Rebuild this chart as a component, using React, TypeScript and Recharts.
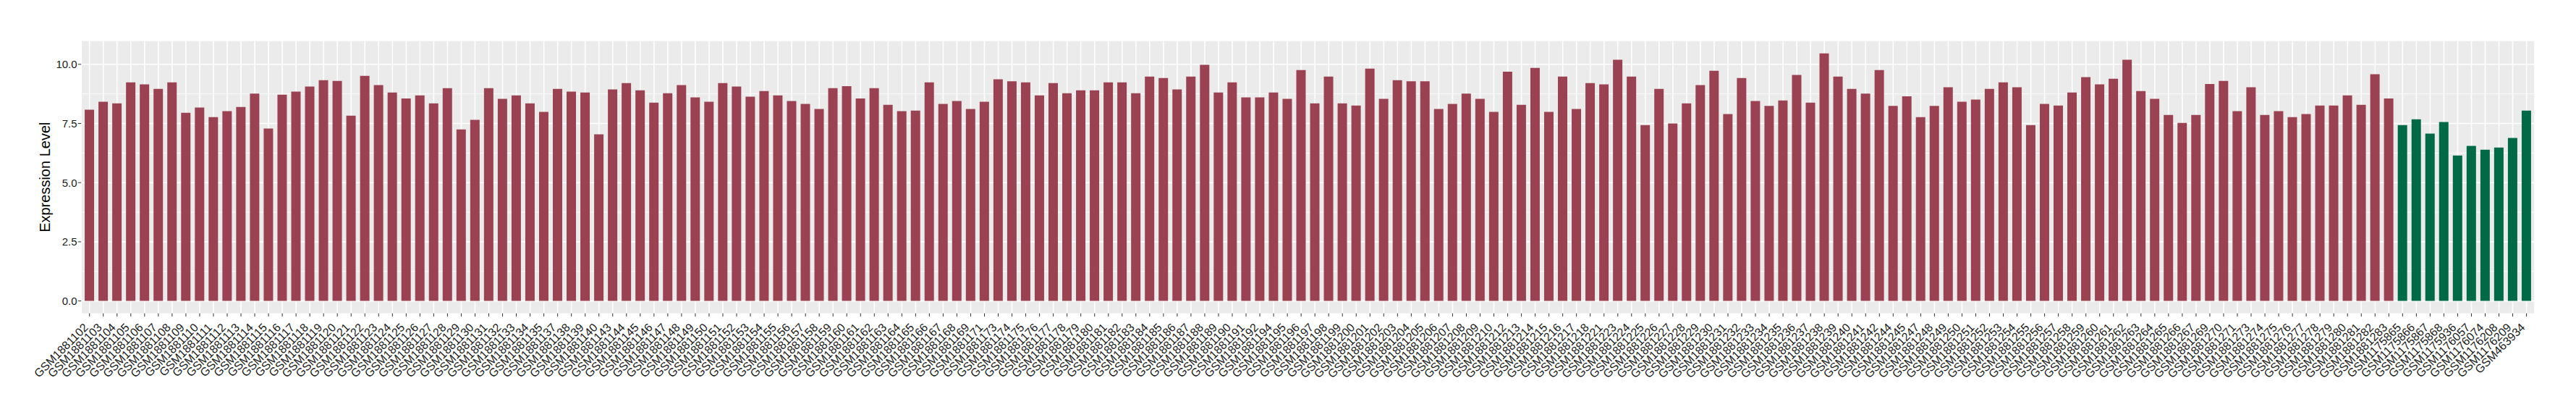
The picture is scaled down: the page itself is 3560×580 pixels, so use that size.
import React from 'react';
import { BarChart, Bar, XAxis, YAxis, CartesianGrid, Cell } from 'recharts';

const tumorSamples = [
  'GSM1881102','GSM1881103','GSM1881104','GSM1881105','GSM1881106','GSM1881107','GSM1881108','GSM1881109','GSM1881110','GSM1881111',
  'GSM1881112','GSM1881113','GSM1881114','GSM1881115','GSM1881116','GSM1881117','GSM1881118','GSM1881119','GSM1881120','GSM1881121',
  'GSM1881122','GSM1881123','GSM1881124','GSM1881125','GSM1881126','GSM1881127','GSM1881128','GSM1881129','GSM1881130','GSM1881131',
  'GSM1881132','GSM1881133','GSM1881134','GSM1881135','GSM1881137','GSM1881138','GSM1881139','GSM1881140','GSM1881143','GSM1881144',
  'GSM1881145','GSM1881146','GSM1881147','GSM1881148','GSM1881149','GSM1881150','GSM1881151','GSM1881152','GSM1881153','GSM1881154',
  'GSM1881155','GSM1881156','GSM1881157','GSM1881158','GSM1881159','GSM1881160','GSM1881161','GSM1881162','GSM1881163','GSM1881164',
  'GSM1881165','GSM1881166','GSM1881167','GSM1881168','GSM1881169','GSM1881171','GSM1881173','GSM1881174','GSM1881175','GSM1881176',
  'GSM1881177','GSM1881178','GSM1881179','GSM1881180','GSM1881181','GSM1881182','GSM1881183','GSM1881184','GSM1881185','GSM1881186',
  'GSM1881187','GSM1881188','GSM1881189','GSM1881190','GSM1881191','GSM1881192','GSM1881194','GSM1881195','GSM1881196','GSM1881197',
  'GSM1881198','GSM1881199','GSM1881200','GSM1881201','GSM1881202','GSM1881203','GSM1881204','GSM1881205','GSM1881206','GSM1881207',
  'GSM1881208','GSM1881209','GSM1881210','GSM1881212','GSM1881213','GSM1881214','GSM1881215','GSM1881216','GSM1881217','GSM1881218',
  'GSM1881221','GSM1881223','GSM1881224','GSM1881225','GSM1881226','GSM1881227','GSM1881228','GSM1881229','GSM1881230','GSM1881231',
  'GSM1881232','GSM1881233','GSM1881234','GSM1881235','GSM1881236','GSM1881237','GSM1881238','GSM1881239','GSM1881240','GSM1881241',
  'GSM1881242','GSM1881244','GSM1881245','GSM1881247','GSM1881248','GSM1881249','GSM1881250','GSM1881251','GSM1881252','GSM1881253',
  'GSM1881254','GSM1881255','GSM1881256','GSM1881257','GSM1881258','GSM1881259','GSM1881260','GSM1881261','GSM1881262','GSM1881263',
  'GSM1881264','GSM1881265','GSM1881266','GSM1881267','GSM1881269','GSM1881270','GSM1881271','GSM1881273','GSM1881274','GSM1881275',
  'GSM1881276','GSM1881277','GSM1881278','GSM1881279','GSM1881280','GSM1881281','GSM1881282','GSM1881283',
];

const tumorValues = [
  8.08, 8.42, 8.35, 9.24, 9.15, 8.96, 9.24, 7.95, 8.17, 7.77,
  8.02, 8.20, 8.76, 7.29, 8.72, 8.85, 9.06, 9.33, 9.30, 7.83,
  9.51, 9.12, 8.81, 8.56, 8.69, 8.35, 8.99, 7.25, 7.65, 8.99,
  8.54, 8.69, 8.35, 7.99, 8.96, 8.85, 8.81, 7.04, 8.94, 9.21,
  8.90, 8.38, 8.78, 9.12, 8.60, 8.42, 9.21, 9.06, 8.63, 8.87,
  8.69, 8.45, 8.33, 8.11, 8.99, 9.08, 8.56, 8.99, 8.29, 8.02,
  8.04, 9.24, 8.33, 8.45, 8.11, 8.42, 9.37, 9.28, 9.24, 8.69,
  9.21, 8.78, 8.90, 8.90, 9.24, 9.24, 8.78, 9.48, 9.42, 8.94,
  9.48, 9.98, 8.81, 9.24, 8.60, 8.60, 8.81, 8.54, 9.76, 8.35,
  9.48, 8.35, 8.26, 9.82, 8.54, 9.33, 9.28, 9.28, 8.11, 8.33,
  8.76, 8.54, 7.99, 9.69, 8.29, 9.85, 7.99, 9.48, 8.11, 9.21,
  9.15, 10.19, 9.48, 7.43, 8.96, 7.50, 8.35, 9.12, 9.73, 7.90,
  9.42, 8.45, 8.24, 8.47, 9.55, 8.38, 10.46, 9.48, 8.96, 8.76,
  9.76, 8.24, 8.65, 7.77, 8.24, 9.03, 8.42, 8.51, 8.96, 9.24,
  9.03, 7.43, 8.33, 8.26, 8.81, 9.46, 9.15, 9.39, 10.19, 8.87,
  8.54, 7.86, 7.52, 7.86, 9.17, 9.30, 8.02, 9.03, 7.86, 8.02,
  7.77, 7.90, 8.26, 8.26, 8.69, 8.29, 9.58, 8.56,
];

const normalSamples = [
  'GSM1175865','GSM1175866','GSM1175867','GSM1175868','GSM1175936',
  'GSM1176057','GSM1176074','GSM1176208','GSM1176209','GSM463934',
];

const normalValues = [7.43, 7.68, 7.07, 7.56, 6.15, 6.55, 6.39, 6.48, 6.89, 8.04];

const majorTicks = [0, 2.5, 5, 7.5, 10];
const minorTicks = [1.25, 3.75, 6.25, 8.75];

const groupColors: Record<string, string> = { tumor: '#9B4252', normal: '#006946' };

const data = [
  ...tumorSamples.map((s, i) => ({ sample: s, value: tumorValues[i], group: 'tumor' })),
  ...normalSamples.map((s, i) => ({ sample: s, value: normalValues[i], group: 'normal' })),
];

const FONT = '"Liberation Sans", Arial, Helvetica, sans-serif';

const XTick = (props: any) => {
  const { x, y, payload } = props;
  return (
    <g transform={`translate(${x - 1},${y + 14})`}>
      <text
        x={0}
        y={0}
        textAnchor="end"
        transform="rotate(-45)"
        fontSize={16}
        fill="#1a1a1a"
        fontFamily={FONT}
      >
        {payload.value}
      </text>
    </g>
  );
};

const YTitle = (props: any) => {
  const vb = props.viewBox || {};
  const cx = (vb.x ?? 52.3) + 16.5;
  const cy = (vb.y ?? 56.7) + (vb.height ?? 376) / 2;
  return (
    <text
      x={cx}
      y={cy}
      transform={`rotate(-90, ${cx}, ${cy})`}
      textAnchor="middle"
      fontSize={20}
      fill="#000"
      fontFamily={FONT}
    >
      Expression Level
    </text>
  );
};

export default function App() {
  return (
    <div style={{ position: 'absolute', left: 0, top: 0, width: 3560, height: 580, background: '#fff' }}>
      <BarChart
        width={3560}
        height={580}
        data={data}
        margin={{ top: 56.7, right: 57, bottom: 0, left: 52.3 }}
        barCategoryGap="15%"
      >
        <CartesianGrid
          fill="#EBEBEB"
          stroke="#FFFFFF"
          strokeWidth={1.6}
          horizontalValues={majorTicks}
        />
        <CartesianGrid
          stroke="#FFFFFF"
          strokeWidth={0.8}
          vertical={false}
          horizontalValues={minorTicks}
        />
        <XAxis
          dataKey="sample"
          type="category"
          interval={0}
          tick={<XTick />}
          tickSize={4.5}
          tickLine={{ stroke: '#333', strokeWidth: 1 }}
          axisLine={false}
          height={147.3}
          padding={{ left: 1.9, right: 1.9 }}
        />
        <YAxis
          type="number"
          domain={[-0.523, 10.983]}
          allowDataOverflow
          ticks={majorTicks}
          tickFormatter={(v: number) => v.toFixed(1)}
          tick={{ fontSize: 15, fill: '#1a1a1a', fontFamily: FONT }}
          tickSize={4.5}
          tickMargin={1.2}
          tickLine={{ stroke: '#333', strokeWidth: 1 }}
          axisLine={false}
          width={60}
          label={<YTitle />}
        />
        <Bar dataKey="value" isAnimationActive={false}>
          {data.map((d) => (
            <Cell key={d.sample} fill={groupColors[d.group]} />
          ))}
        </Bar>
      </BarChart>
    </div>
  );
}
